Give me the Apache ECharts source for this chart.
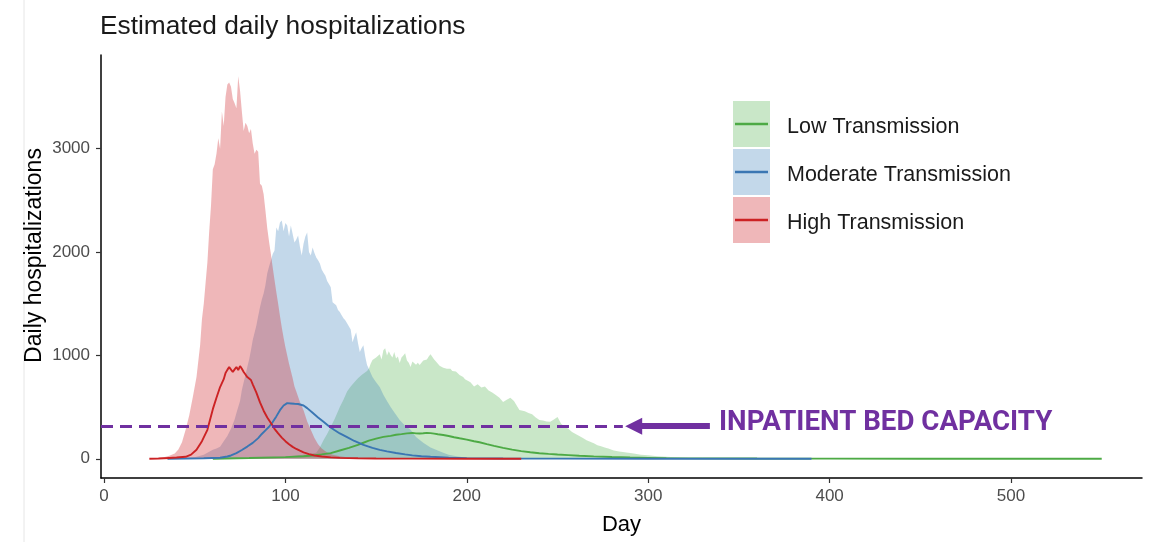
<!DOCTYPE html>
<html>
<head>
<meta charset="utf-8">
<script src="https://cdn.jsdelivr.net/npm/echarts@6/dist/echarts.min.js"></script>
<style>
  html, body { margin: 0; padding: 0; background: #fff; }
  #display { width: 1150px; height: 542px; }
</style>
</head>
<body>
<div id="display"></div>
<script>
// 情景名称
var scenarioNames = ['Low Transmission', 'Moderate Transmission', 'High Transmission'];
// 坐标轴刻度
var xTicks = [0, 100, 200, 300, 400, 500];
var yTicks = [0, 1000, 2000, 3000];
// 住院床位容量
var bedCapacity = 315;

// 上界 (day, value)
var lowUpper = [[50,0],[60,3],[70,6],[80,10],[90,15],[100,22],[105,30],[110,40],[114,50],[117,58],[119,110],[121,180],[123,240],[125,309],[127,380],[129,460],[130,500],[132,570],[134,650],[136,700],[138,740],[140,780],[142,810],[143,829],[145,850],[146,870],[147,920],[148,955],[150,980],[152,1010],[153,960],[154,1050],[155,1070],[156,1000],[157,1040],[158,1003],[159,980],[160,1032],[161,970],[162,990],[163,926],[164,980],[165,1000],[166,1022],[167,950],[168,930],[169,887],[170,940],[171,955],[172,910],[173,930],[174,906],[175,920],[176,950],[177,935],[178,960],[179,990],[180,1010],[181,1022],[182,960],[183,940],[184,926],[185,900],[186,906],[187,880],[188,890],[189,870],[190,858],[191,870],[192,850],[193,835],[194,845],[195,829],[196,810],[197,800],[198,790],[199,770],[200,762],[202,740],[204,700],[205,694],[206,720],[208,690],[210,700],[211,694],[212,660],[214,640],[216,617],[218,590],[220,550],[222,570],[224,590],[225,598],[226,560],[228,500],[229,473],[230,480],[232,460],[234,444],[236,430],[238,400],[240,376],[242,370],[244,360],[246,357],[248,380],[250,405],[252,340],[254,309],[256,290],[258,260],[260,240],[262,220],[264,200],[266,180],[268,165],[270,150],[272,130],[274,120],[276,110],[278,100],[281,80],[284,70],[288,60],[292,50],[296,40],[300,35],[305,25],[310,20],[315,15],[320,10],[325,6],[330,4],[340,1],[345,0],[550,0]];
var moderateUpper = [[35,0],[45,5],[50,15],[55,40],[60,87],[62,100],[64,116],[66,170],[68,220],[70,290],[72,380],[73,444],[75,560],[76,665],[77,740],[78,810],[79,887],[80,960],[81,1050],[82,1148],[83,1220],[84,1290],[85,1380],[86,1466],[87,1540],[88,1600],[89,1680],[90,1794],[91,1860],[92,1919],[93,1980],[94,2015],[95,2237],[96,2200],[97,2285],[98,2305],[99,2200],[100,2280],[101,2257],[102,2150],[103,2257],[104,2240],[105,2093],[106,2120],[107,2160],[108,2050],[109,1967],[110,2080],[111,2150],[112,2189],[113,2000],[114,1967],[115,2044],[116,1990],[117,1948],[118,1920],[119,1890],[120,1830],[121,1800],[122,1774],[123,1720],[124,1690],[125,1660],[126,1514],[127,1530],[128,1485],[129,1440],[130,1420],[131,1389],[132,1360],[133,1340],[134,1310],[135,1292],[136,1250],[137,1128],[138,1180],[139,1225],[140,1120],[141,1032],[142,1070],[143,1099],[144,990],[145,906],[146,870],[147,829],[148,790],[150,740],[152,694],[154,620],[156,560],[158,500],[160,450],[163,376],[166,320],[169,280],[172,210],[176,154],[180,110],[184,80],[187,58],[190,40],[195,22],[200,10],[210,3],[220,0],[390,0]];
var highUpper = [[25,0],[30,8],[33,15],[36,30],[39,50],[41,90],[43,160],[45,280],[47,420],[49,600],[51,790],[53,1100],[54,1350],[55,1500],[56,1700],[57,1900],[58,2200],[59,2450],[60,2800],[61,2850],[62,2950],[63,3100],[64,3000],[65,3360],[66,3220],[67,3500],[68,3620],[69,3640],[70,3600],[71,3480],[72,3440],[73,3390],[74,3700],[75,3560],[76,3360],[77,3170],[78,3250],[79,3220],[80,3150],[81,3190],[82,3050],[83,2950],[84,2990],[85,2970],[86,2660],[87,2640],[88,2560],[89,2400],[90,2230],[91,2100],[92,1980],[93,1850],[94,1730],[95,1610],[96,1500],[97,1380],[98,1270],[99,1170],[100,1080],[101,1000],[102,920],[103,850],[104,780],[105,700],[106,650],[108,550],[110,470],[112,360],[114,280],[116,200],[118,140],[120,100],[123,60],[126,40],[130,25],[135,12],[140,6],[150,2],[230,0]];

// 中位数
var lowMedian = [[60,0],[80,7],[100,16],[110,25],[115,32],[120,42],[125,55],[130,80],[135,105],[140,135],[143,155],[146,175],[150,195],[154,212],[158,222],[161,232],[164,238],[167,246],[170,250],[172,246],[174,244],[176,247],[178,251],[180,248],[182,243],[184,237],[187,230],[190,220],[193,208],[196,198],[200,185],[204,170],[207,160],[211,142],[215,125],[220,105],[225,88],[230,74],[235,63],[240,54],[245,47],[250,41],[256,35],[262,29],[270,23],[280,17],[290,12],[300,9],[310,6],[330,4],[360,2],[400,1],[450,0],[550,0]];
var moderateMedian = [[35,0],[45,2],[55,5],[64,10],[68,22],[70,32],[73,55],[76,85],[79,118],[82,154],[85,200],[87,240],[89,275],[91,310],[93,355],[95,410],[97,470],[99,515],[100,530],[101,538],[102,542],[103,535],[104,540],[105,532],[106,545],[107,530],[108,528],[110,515],[112,490],[115,445],[118,400],[121,358],[124,315],[127,278],[130,245],[134,210],[138,172],[143,135],[148,105],[152,86],[156,71],[161,56],[166,42],[170,33],[175,25],[180,19],[190,11],[200,6],[220,3],[250,1],[300,0],[390,0]];
var highMedian = [[25,0],[30,2],[36,8],[40,12],[45,19],[48,40],[51,87],[54,170],[57,280],[60,480],[62,590],[64,694],[66,770],[67,829],[68,860],[69,887],[70,875],[71,839],[72,865],[73,887],[74,858],[75,897],[76,870],[77,839],[78,815],[79,790],[80,775],[81,762],[82,720],[84,640],[86,545],[88,465],[90,400],[92,345],[94,290],[96,245],[98,205],[100,170],[102,140],[104,115],[106,95],[108,78],[110,62],[113,45],[116,32],[120,22],[125,14],[130,9],[140,5],[150,3],[170,1],[200,0],[230,0]];

var bands = [lowUpper, moderateUpper, highUpper];
var medians = [lowMedian, moderateMedian, highMedian];
var lineColors = ['#4DAA45', '#3A76B3', '#CC2224'];
var fillColors = ['rgba(77,175,74,0.3)', 'rgba(55,126,184,0.3)', 'rgba(210,50,55,0.35)'];

var font = '"Liberation Sans", Arial, sans-serif';
var xMin = -1.65, xMax = 572.2;

var myDisplay = echarts.init(document.getElementById('display'));

var series = [];
// 置信带
bands.forEach(function (d, i) {
    series.push({
        name: scenarioNames[i] + ' band',
        type: 'line',
        data: d,
        symbol: 'none',
        silent: true,
        lineStyle: { width: 0 },
        areaStyle: { color: fillColors[i], opacity: 1 },
        z: 2
    });
});
// 中位线
medians.forEach(function (d, i) {
    series.push({
        name: scenarioNames[i],
        type: 'line',
        data: d,
        symbol: 'none',
        silent: true,
        lineStyle: { width: 1.9, color: lineColors[i] },
        z: 3
    });
});
// 容量虚线和箭头
series.push({
    type: 'line',
    data: [],
    silent: true,
    z: 5,
    markLine: {
        silent: true,
        animation: false,
        label: { show: false },
        data: [
            [
                { coord: [xMin, bedCapacity], symbol: 'none', lineStyle: { type: [12, 7], width: 3, color: '#7030A0' } },
                { coord: [286, bedCapacity], symbol: 'none' }
            ],
            [
                { coord: [334, bedCapacity], symbol: 'none', lineStyle: { type: 'solid', width: 6, color: '#7030A0' } },
                { coord: [292, bedCapacity], symbol: 'triangle', symbolSize: [17, 17] }
            ]
        ]
    }
});

// 图例
var legendGraphics = [];
scenarioNames.forEach(function (name, i) {
    var top = 101 + i * 48;
    legendGraphics.push({
        type: 'rect', left: 733, top: top,
        shape: { width: 37, height: 46 },
        style: { fill: fillColors[i] }
    });
    legendGraphics.push({
        type: 'line',
        shape: { x1: 735, y1: top + 23, x2: 768, y2: top + 23 },
        style: { stroke: lineColors[i], lineWidth: 2.5 }
    });
    legendGraphics.push({
        type: 'text', left: 787, top: top + 23 - 8,
        style: { text: name, fontSize: 21.5, fontFamily: font, fill: '#1a1a1a' }
    });
});

myDisplay.setOption({
    animation: false,
    backgroundColor: '#fff',
    title: {
        text: 'Estimated daily hospitalizations',
        left: 100, top: 14, padding: 0,
        textStyle: { fontSize: 26.3, fontWeight: 'normal', fontFamily: font, color: '#1a1a1a' }
    },
    grid: { left: 101, right: 8, top: 55, bottom: 64 },
    xAxis: {
        type: 'value',
        min: xMin, max: xMax,
        name: 'Day',
        nameLocation: 'middle',
        nameGap: 36,
        nameTextStyle: { fontSize: 22, fontFamily: font, color: '#000' },
        splitLine: { show: false },
        axisLine: { onZero: false, lineStyle: { color: '#000', width: 1.5 } },
        axisTick: { customValues: xTicks, length: 5, lineStyle: { color: '#333', width: 1.2 } },
        axisLabel: { customValues: xTicks, color: '#4d4d4d', fontSize: 17, fontFamily: font, margin: 10 }
    },
    yAxis: {
        type: 'value',
        min: -186, max: 3906,
        name: 'Daily hospitalizations',
        nameLocation: 'middle',
        nameGap: 55,
        nameMoveOverlap: false,
        nameRotate: 90,
        nameTextStyle: { fontSize: 23, fontFamily: font, color: '#000', padding: [0, 0, 0, 22] },
        splitLine: { show: false },
        axisLine: { onZero: false, lineStyle: { color: '#000', width: 1.5 } },
        axisTick: { customValues: yTicks, length: 5, lineStyle: { color: '#333', width: 1.2 } },
        axisLabel: {
            customValues: yTicks, color: '#4d4d4d', fontSize: 17, fontFamily: font, margin: 11,
            formatter: function (v) { return String(v); }
        }
    },
    graphic: [
        { type: 'line', shape: { x1: 24, y1: 0, x2: 24, y2: 542 }, style: { stroke: '#e6e6e6', lineWidth: 1 } },
        {
            type: 'text', left: 719, top: 409,
            style: { text: 'INPATIENT BED CAPACITY', fontSize: 27.7, fontWeight: 'bold', fontFamily: 'Roboto, sans-serif', fill: '#7030A0' }
        }
    ].concat(legendGraphics),
    series: series
});

window.onresize = function () {
    myDisplay.resize();
};
</script>
</body>
</html>
